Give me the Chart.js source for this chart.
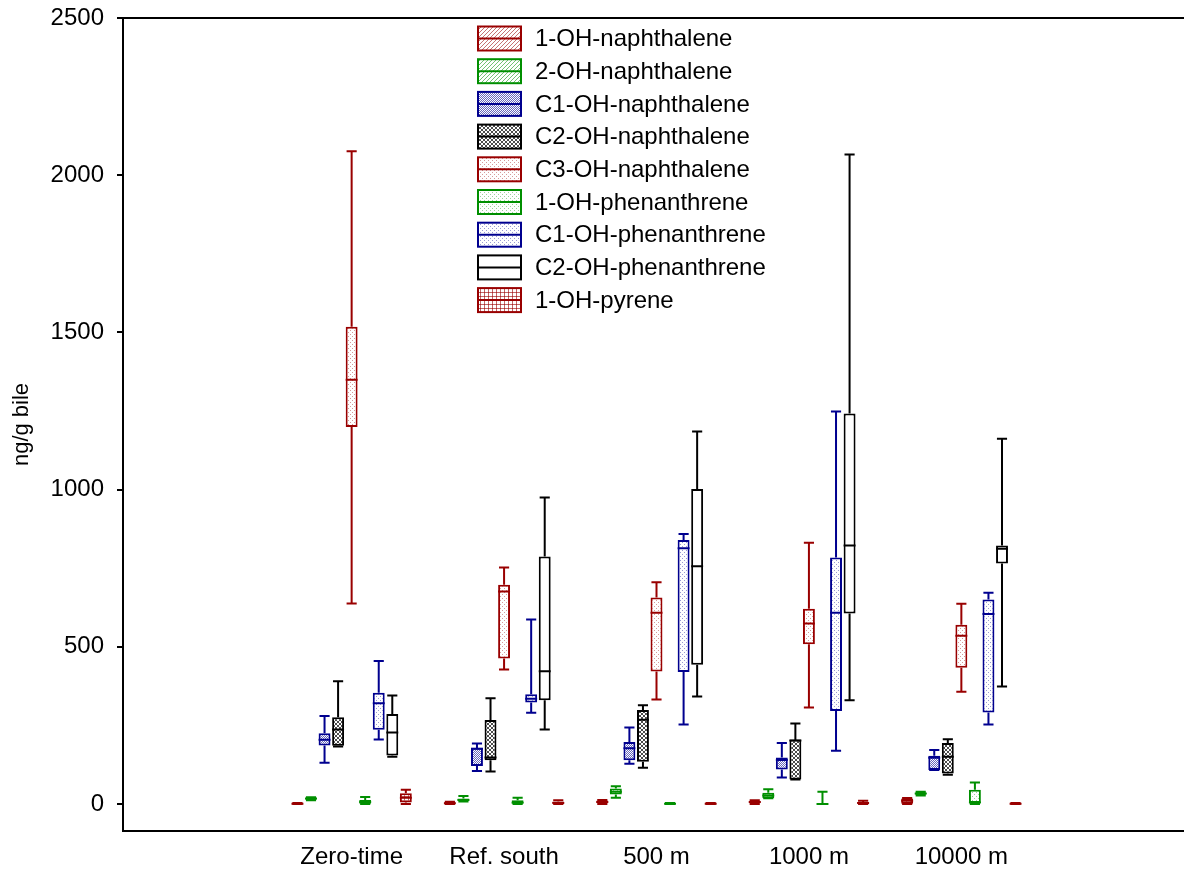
<!DOCTYPE html>
<html>
<head>
<meta charset="utf-8">
<title>Hydroxylated PAH metabolites in bile</title>
<script src="https://cdn.jsdelivr.net/npm/chart.js@4.4.1/dist/chart.umd.min.js"></script>
<style>
  html, body { margin: 0; padding: 0; background: #fff; overflow: hidden; }
  #wrap { width: 1190px; height: 872px; position: relative; }
</style>
</head>
<body>
<div id="wrap"><canvas id="box-chart"></canvas></div>
<script>
/* =============================================
   Box plot — OH-PAH metabolites (ng/g bile)
   ============================================= */

// Sites (blank slots at each end keep the plot margins)
const sites = ['Zero-time', 'Ref. south', '500 m', '1000 m', '10000 m'];
const yTicks = [0, 500, 1000, 1500, 2000, 2500];

const seriesNames = [
  '1-OH-naphthalene', '2-OH-naphthalene', 'C1-OH-naphthalene',
  'C2-OH-naphthalene', 'C3-OH-naphthalene', '1-OH-phenanthrene',
  'C1-OH-phenanthrene', 'C2-OH-phenanthrene', '1-OH-pyrene'
];

// one entry per site: [min, q1, median, q3, max]
const naph1OH = [[0, 0, 1, 2, 3], [0, 0, 2, 5, 7], [0, 2, 6, 11, 13], [0, 2, 6, 10, 12], [0, 1, 10, 17, 19]];
const naph2OH = [[12, 14, 17, 19, 21], [8, 10, 13, 17, 25], [20, 30, 39, 49, 56], [18, 18, 27, 36, 47], [27, 30, 33, 36, 39]];
const naphC1 = [[131, 186, 204, 225, 280], [105, 121, 176, 179, 192], [128, 139, 177, 197, 243], [84, 110, 140, 148, 194], [108, 108, 147, 153, 172]];
const naphC2 = [[183, 185, 237, 276, 390], [103, 139, 148, 267, 336], [115, 134, 268, 299, 314], [78, 78, 202, 205, 256], [93, 97, 150, 194, 206]];
const naphC3 = [[638, 1199, 1349, 1518, 2076], [428, 463, 676, 697, 752], [332, 421, 608, 657, 705], [307, 508, 574, 621, 831], [357, 433, 535, 570, 637]];
const phen1OH = [[0, 1, 6, 13, 22], [0, 0, 4, 12, 20], [0, 0, 1, 2, 3], [0, 0, 0, 2, 39], [0, 0, 5, 45, 68]];
const phenC1 = [[205, 236, 320, 354, 455], [290, 323, 335, 349, 587], [253, 420, 813, 840, 859], [169, 296, 608, 784, 1248], [253, 291, 604, 650, 672]];
const phenC2 = [[150, 154, 227, 286, 345], [237, 330, 422, 787, 975], [342, 443, 756, 1002, 1185], [330, 606, 822, 1242, 2066], [374, 765, 812, 822, 1162]];
const pyrene1OH = [[0, 5, 20, 34, 45], [0, 0, 3, 8, 12], [0, 0, 1, 2, 3], [0, 1, 3, 6, 10], [0, 0, 1, 2, 3]];

const seriesStats = [naph1OH, naph2OH, naphC1, naphC2, naphC3, phen1OH, phenC1, phenC2, pyrene1OH];

// Styles
const RED = '#990000', GREEN = '#008f00', BLUE = '#00008f', BLACK = '#000000';
const seriesColors = [RED, GREEN, BLUE, BLACK, RED, GREEN, BLUE, BLACK, RED];
const seriesFills = ['diag', 'diag', 'diag2', 'cross', 'dots', 'dots', 'dots', 'none', 'grid'];
const FONT = "'Liberation Sans', Arial, sans-serif";

function makePattern(kind, color) {
  const c = document.createElement('canvas');
  c.width = 4; c.height = 4;
  const g = c.getContext('2d');
  g.fillStyle = '#fff';
  g.fillRect(0, 0, 4, 4);
  g.fillStyle = color;
  if (kind === 'diag') {
    g.globalAlpha = 0.55;
    for (let i = 0; i < 4; i++) g.fillRect(i, 3 - i, 1, 1);
  } else if (kind === 'diag2') {
    g.globalAlpha = 0.6;
    for (let i = 0; i < 4; i++) { g.fillRect(i, 3 - i, 1, 1); g.fillRect(i, (5 - i) % 4, 1, 1); }
  } else if (kind === 'cross') {
    g.globalAlpha = 0.7;
    for (let i = 0; i < 4; i++) { g.fillRect(i, 3 - i, 1, 1); g.fillRect(i, i, 1, 1); }
  } else if (kind === 'dots') {
    g.globalAlpha = 0.4;
    g.fillRect(0, 0, 1, 1); g.fillRect(2, 2, 1, 1);
  } else if (kind === 'grid') {
    g.globalAlpha = 0.6;
    g.fillRect(0, 0, 4, 1); g.fillRect(0, 0, 1, 4);
  }
  return g.createPattern(c, 'repeat');
}

const fills = seriesFills.map((k, i) => makePattern(k, seriesColors[i]));

// Whiskers, caps, medians, frame top and the legend
const boxPlotPlugin = {
  id: 'boxWhiskers',
  afterDatasetsDraw(chart) {
    const ctx = chart.ctx;
    const y = chart.scales.y;
    chart.data.datasets.forEach((ds, i) => {
      const meta = chart.getDatasetMeta(i);
      meta.data.forEach((bar, j) => {
        const s = ds.stats[j];
        if (!s) return;
        const half = bar.width / 2;
        const cap = half * 0.85;
        const yMin = y.getPixelForValue(s[0]);
        const yQ1 = y.getPixelForValue(s[1]);
        const yMed = y.getPixelForValue(s[2]);
        const yQ3 = y.getPixelForValue(s[3]);
        const yMax = y.getPixelForValue(s[4]);
        ctx.save();
        ctx.strokeStyle = ds.borderColor;
        ctx.lineWidth = 2;
        ctx.beginPath();
        ctx.moveTo(bar.x, yQ3); ctx.lineTo(bar.x, yMax);
        ctx.moveTo(bar.x - cap, yMax); ctx.lineTo(bar.x + cap, yMax);
        ctx.moveTo(bar.x, yQ1); ctx.lineTo(bar.x, yMin);
        ctx.moveTo(bar.x - cap, yMin); ctx.lineTo(bar.x + cap, yMin);
        ctx.moveTo(bar.x - half, yMed); ctx.lineTo(bar.x + half, yMed);
        ctx.stroke();
        ctx.restore();
      });
    });
  },
  afterDraw(chart) {
    const ctx = chart.ctx;
    const area = chart.chartArea;
    ctx.save();
    // top frame line
    ctx.strokeStyle = '#000';
    ctx.lineWidth = 2;
    ctx.beginPath();
    ctx.moveTo(area.left, area.top);
    ctx.lineTo(area.right, area.top);
    ctx.stroke();

    // legend
    const lx = 478, bw = 43, bh = 24, rowH = 32.7, firstY = 38.5;
    ctx.font = '24px ' + FONT;
    ctx.textBaseline = 'middle';
    ctx.textAlign = 'left';
    seriesNames.forEach((name, i) => {
      const cy = firstY + i * rowH;
      ctx.fillStyle = fills[i];
      ctx.fillRect(lx, cy - bh / 2, bw, bh);
      ctx.strokeStyle = seriesColors[i];
      ctx.lineWidth = 2;
      ctx.strokeRect(lx, cy - bh / 2, bw, bh);
      ctx.beginPath();
      ctx.moveTo(lx, cy); ctx.lineTo(lx + bw, cy);
      ctx.stroke();
      ctx.fillStyle = '#000';
      ctx.fillText(name, lx + 57, cy + 1);
    });
    ctx.restore();
  }
};

const labels = [''].concat(sites, ['']);

const datasets = seriesNames.map((name, i) => ({
  label: name,
  data: [null].concat(seriesStats[i].map(s => [s[1], s[3]]), [null]),
  stats: [null].concat(seriesStats[i], [null]),
  backgroundColor: fills[i],
  borderColor: seriesColors[i],
  borderWidth: 2,
  borderSkipped: false,
  categoryPercentage: 0.8,
  barPercentage: 0.88
}));

new Chart(document.getElementById('box-chart'), {
  type: 'bar',
  data: { labels, datasets },
  plugins: [boxPlotPlugin],
  options: {
    responsive: true, maintainAspectRatio: false,
    animation: false,
    layout: { padding: { top: 18, right: 0, bottom: 0, left: 0 } },
    plugins: { legend: { display: false }, tooltip: { enabled: false } },
    scales: {
      x: {
        grid: { display: false, drawTicks: false },
        border: { color: '#000', width: 2 },
        ticks: { color: '#000', font: { family: FONT, size: 24 }, padding: 12, maxRotation: 0, autoSkip: false },
        afterFit: s => { s.height = 41; }
      },
      y: {
        min: -86, max: 2500,
        afterBuildTicks: s => { s.ticks = yTicks.map(v => ({ value: v })); },
        grid: { drawOnChartArea: false, drawTicks: true, tickLength: 6, color: '#000', lineWidth: 2 },
        border: { color: '#000', width: 2 },
        ticks: { color: '#000', font: { family: FONT, size: 24 }, padding: 13, callback: v => String(v) },
        title: { display: true, text: 'ng/g bile', color: '#000', font: { family: FONT, size: 22 }, padding: { top: 9, bottom: 0 } },
        afterFit: s => { s.width = 123; s.paddingTop = 0; s.paddingBottom = 0; }
      }
    }
  }
});
</script>
</body>
</html>
